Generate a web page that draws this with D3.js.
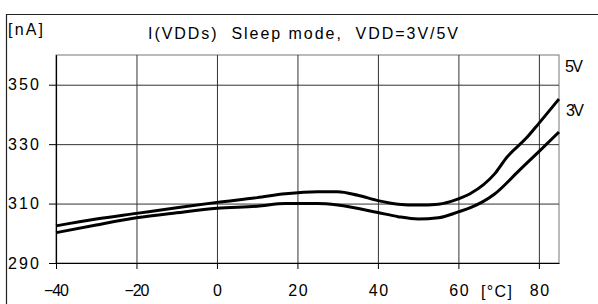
<!DOCTYPE html>
<html>
<head>
<meta charset="utf-8">
<script src="https://cdn.jsdelivr.net/npm/d3@7"></script>
<style>
  body { margin: 0; background: #fff; }
  svg { display: block; font-family: "Liberation Sans", Arial, sans-serif; }
  text { white-space: pre; }
</style>
</head>
<body>
<div id="chart"></div>
<script>
// temperature ticks [°C] and current ticks [nA]
const xTicks = [-40, -20, 0, 20, 40, 60, 80];
const yTicks = [290, 310, 330, 350];

// I(VDDs), VDD = 5V
const temp5V = [-40, -30, -20, -10, 0, 10, 17, 25, 30, 35, 40, 45, 50, 55, 60, 63, 69, 72, 77, 80, 85];
const curr5V = [302.5, 304.8, 306.7, 308.6, 310.4, 312.0, 313.3, 314.0, 314.0, 312.8, 311.0, 309.8, 309.5, 309.8, 311.6, 313.4, 320.0, 325.5, 332.2, 337.0, 345.2];

// VDD = 3V
const temp3V = [-40, -30, -20, -10, 0, 10, 17, 25, 30, 40, 45, 50, 55, 60, 63, 69, 75, 80, 85];
const curr3V = [300.2, 302.8, 305.2, 306.9, 308.4, 309.1, 310.0, 310.0, 309.5, 307.0, 305.6, 304.8, 305.2, 307.2, 308.6, 313.2, 321.0, 327.5, 334.1];

const W = 598, H = 304;
const margin = { left: 56, top: 55, right: 39, bottom: 41 };
const plotW = W - margin.left - margin.right;
const plotH = H - margin.top - margin.bottom;
const FONT = 16;

const svg = d3.select('#chart').append('svg')
  .attr('width', W)
  .attr('height', H);

// outer frame (only left and top edges are inside the picture)
svg.append('path')
  .attr('d', `M6.5,${H}V14.5H${W}`)
  .attr('fill', 'none')
  .attr('stroke', '#222')
  .attr('stroke-width', 1.2);

const x = d3.scaleLinear().domain([-40, 85]).range([0, plotW]);
const y = d3.scaleLinear().domain([290, 360]).range([plotH, 0]);

const g = svg.append('g')
  .attr('transform', `translate(${margin.left},${margin.top})`);

// plot border
g.append('rect')
  .attr('width', plotW)
  .attr('height', plotH)
  .attr('fill', 'none')
  .attr('stroke', '#777')
  .attr('stroke-width', 1);

// grid
g.append('g')
  .attr('class', 'grid')
  .attr('transform', `translate(0,${plotH})`)
  .call(d3.axisBottom(x).tickValues(xTicks).tickSize(-plotH).tickFormat(''))
  .call(a => a.select('.domain').remove());

g.append('g')
  .attr('class', 'grid')
  .call(d3.axisLeft(y).tickValues(yTicks).tickSize(-plotW).tickFormat(''))
  .call(a => a.select('.domain').remove());

g.selectAll('.grid line')
  .attr('stroke', '#333')
  .attr('stroke-width', 1);

// axes with outward ticks
const xAxis = g.append('g')
  .attr('transform', `translate(0,${plotH})`)
  .call(d3.axisBottom(x).tickValues(xTicks).tickSize(6).tickSizeOuter(0).tickPadding(16));

xAxis.selectAll('text')
  .style('font-size', FONT + 'px')
  .attr('fill', '#000')
  .attr('textLength', d => d < 0 ? 25 : (d === 0 ? 9 : 19.5))
  .attr('lengthAdjust', 'spacing');

const yAxis = g.append('g')
  .call(d3.axisLeft(y).tickValues(yTicks).tickSize(7).tickSizeOuter(0));

yAxis.selectAll('text')
  .style('font-size', FONT + 'px')
  .attr('fill', '#000')
  .attr('text-anchor', 'start')
  .attr('x', 8 - margin.left)
  .attr('textLength', 31)
  .attr('lengthAdjust', 'spacing');

g.selectAll('.domain').attr('stroke', '#000').attr('stroke-width', 1.2);
xAxis.selectAll('line').attr('stroke', '#000');
yAxis.selectAll('line').attr('stroke', '#000');

// curves
const line = d3.line()
  .x(d => x(d[0]))
  .y(d => y(d[1]))
  .curve(d3.curveMonotoneX);

const series = [
  { name: '5V', pts: d3.zip(temp5V, curr5V) },
  { name: '3V', pts: d3.zip(temp3V, curr3V) }
];

g.selectAll('.curve')
  .data(series)
  .enter()
  .append('path')
  .attr('class', 'curve')
  .attr('d', d => line(d.pts))
  .attr('fill', 'none')
  .attr('stroke', '#000')
  .attr('stroke-width', 3)
  .attr('stroke-linejoin', 'round');

// texts
function label(txt, px, py, len) {
  svg.append('text')
    .attr('x', px)
    .attr('y', py)
    .attr('textLength', len)
    .attr('lengthAdjust', 'spacing')
    .style('font-size', FONT + 'px')
    .attr('fill', '#000')
    .text(txt);
}

label('[nA]', 8, 35, 35);
label('I(VDDs)  Sleep mode,  VDD=3V/5V', 148, 39, 310);
label('5V', 565, 72, 18);
label('3V', 566, 116, 18);
label('[°C]', 481, 296.5, 31);
</script>
</body>
</html>
